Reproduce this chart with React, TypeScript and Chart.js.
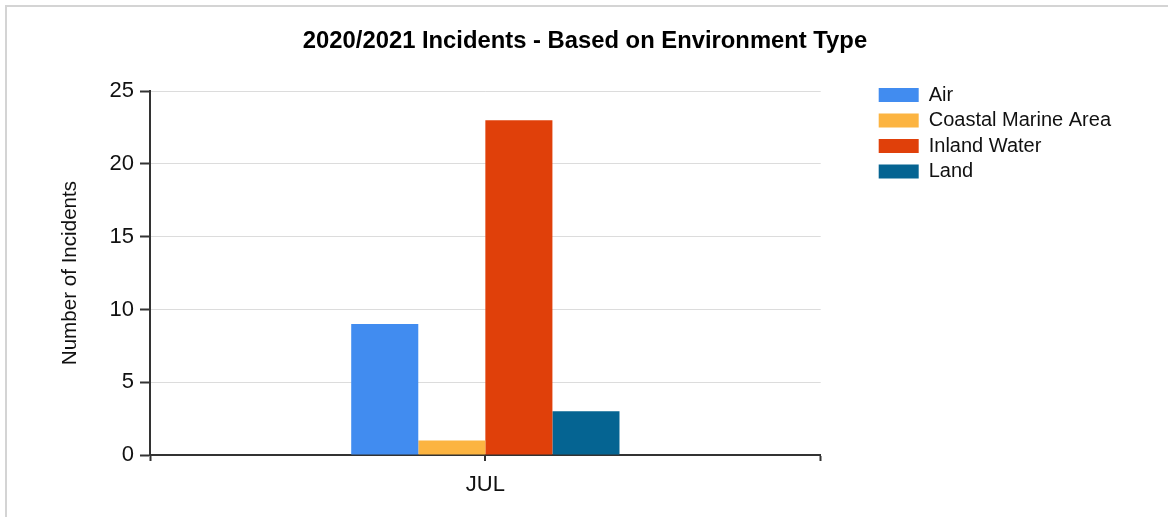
import React, { useEffect, useRef } from "react";
import { Chart, registerables } from "chart.js";

Chart.register(...registerables);

const categories: string[] = ["JUL"];
const seriesNames: string[] = ["Air", "Coastal Marine Area", "Inland Water", "Land"];
const airValues: number[] = [9];
const coastalValues: number[] = [1];
const inlandValues: number[] = [23];
const landValues: number[] = [3];
const seriesColors: string[] = ["#418CF0", "#FCB441", "#E0400A", "#056492"];
const yTicks: number[] = [0, 5, 10, 15, 20, 25];
const chartTitle = "2020/2021 Incidents - Based on Environment Type";
const yTitle = "Number of Incidents";

const FONT = "'Liberation Sans', Arial, sans-serif";

const centerTick = {
  id: "centerTick",
  afterDraw(chart: any) {
    const xs = chart.scales.x;
    const ctx = chart.ctx;
    ctx.save();
    ctx.strokeStyle = "#333333";
    ctx.lineWidth = 2;
    for (let i = 0; i < categories.length; i++) {
      const px = Math.round(xs.getPixelForTick(i));
      ctx.beginPath();
      ctx.moveTo(px, xs.top);
      ctx.lineTo(px, xs.top + 6);
      ctx.stroke();
    }
    ctx.restore();
  },
};

export default function App() {
  const canvasRef = useRef<HTMLCanvasElement | null>(null);

  useEffect(() => {
    const canvas = canvasRef.current;
    if (!canvas) return;
    const values = [airValues, coastalValues, inlandValues, landValues];
    const chart = new Chart(canvas, {
      type: "bar",
      data: {
        labels: categories,
        datasets: seriesNames.map((name, i) => ({
          label: name,
          data: values[i],
          backgroundColor: seriesColors[i],
          borderWidth: 0,
          categoryPercentage: 0.4,
          barPercentage: 1.0,
        })),
      },
      options: {
        responsive: false,
        animation: false,
        layout: { padding: { left: 49, right: 47, top: 0, bottom: 7.6 } },
        plugins: {
          tooltip: { enabled: false },
          title: {
            display: true,
            text: chartTitle,
            color: "#000000",
            font: { family: FONT, size: 23.8, weight: "bold" },
            padding: { top: 27, bottom: 35.6 },
          },
          legend: {
            position: "right",
            align: "start",
            maxWidth: 320,
            title: { display: true, text: "", font: { size: 12 }, padding: { top: 65.1, bottom: 0 } },
            labels: {
              boxWidth: 40,
              boxHeight: 14,
              padding: 5.5,
              color: "#111111",
              font: { family: FONT, size: 20 },
            },
          },
        },
        scales: {
          x: {
            type: "category",
            offset: true,
            grid: { display: true, offset: true, drawOnChartArea: false, tickLength: 6, tickColor: "#333333", tickWidth: 2 },
            border: { display: true, color: "#333333", width: 2 },
            ticks: { color: "#111111", padding: 11, font: { family: FONT, size: 22 } },
          },
          y: {
            type: "linear",
            position: "left",
            min: 0,
            max: 25,
            afterBuildTicks: (s: any) => {
              s.ticks = yTicks.map((v) => ({ value: v }));
            },
            afterFit: (s: any) => {
              s.width = 101;
            },
            grid: { color: "#DCDCDC", lineWidth: 1, tickLength: 10, tickColor: "#333333", tickWidth: 2 },
            border: { display: true, color: "#333333", width: 2 },
            ticks: { color: "#111111", padding: 6, font: { family: FONT, size: 22 } },
            title: {
              display: true,
              text: yTitle,
              color: "#111111",
              font: { family: FONT, size: 20.6 },
              padding: { top: 9, bottom: 0 },
            },
          },
          yPad: {
            type: "linear",
            position: "right",
            display: true,
            grid: { display: false, drawOnChartArea: false },
            border: { display: false },
            ticks: { display: false },
            afterFit: (s: any) => {
              s.width = 52.5;
            },
          },
        },
      },
      plugins: [centerTick],
    });
    return () => chart.destroy();
  }, []);

  return (
    <div style={{ position: "absolute", left: 0, top: 0, width: 1168, height: 517, overflow: "hidden", background: "#ffffff" }}>
      <div
        style={{
          position: "absolute",
          left: 5,
          top: 5,
          width: 1300,
          height: 700,
          borderTop: "2px solid #D4D4D4",
          borderLeft: "2px solid #D4D4D4",
        }}
      />
      <canvas ref={canvasRef} width={1168} height={517} style={{ position: "absolute", left: 0, top: 0 }} />
    </div>
  );
}
